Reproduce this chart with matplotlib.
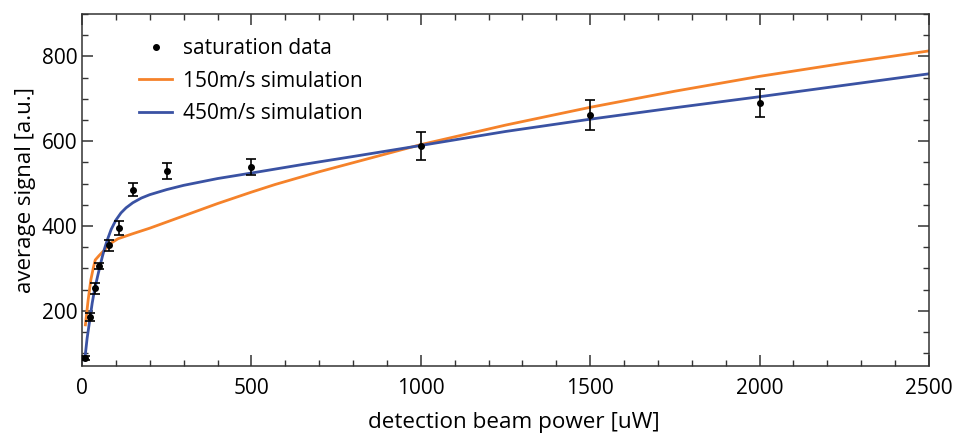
import matplotlib.pyplot as plt
from matplotlib.ticker import MultipleLocator
from matplotlib.lines import Line2D

plt.rcParams['font.family'] = ['Open Sans', 'DejaVu Sans']

# measured saturation data
power = [8, 25, 37, 50, 80, 110, 150, 250, 500, 1000, 1500, 2000]
signal = [88, 186, 253, 306, 355, 395, 486, 530, 539, 588, 662, 691]
signal_err = [5, 10, 13, 8, 13, 16, 15, 19, 18, 33, 35, 33]

# 150 m/s simulation
sim150_x = [10, 18, 26, 33, 39, 50, 62, 86, 106, 150, 200, 300, 400, 500, 570,
            700, 850, 1000, 1250, 1500, 1750, 2000, 2250, 2500]
sim150_y = [167, 225, 273, 300, 320, 330, 340, 360, 370, 382, 395, 424, 453, 480, 498,
            528, 560, 592, 638, 680, 718, 753, 784, 813]

# 450 m/s simulation
sim450_x = [8, 15, 23, 30, 37, 45, 52, 60, 67, 75, 86, 100, 115, 130, 150, 175, 200, 250,
            300, 400, 500, 650, 800, 1000, 1250, 1500, 1750, 2000, 2250, 2500]
sim450_y = [84, 135, 179, 218, 250, 278, 302, 328, 348, 368, 392, 414, 431, 443, 455, 466, 474, 486,
            496, 512, 525, 545, 564, 590, 623, 652, 679, 705, 732, 759]

fig = plt.figure(figsize=(9.57, 4.34), dpi=100)
ax = fig.add_axes([0.0857, 0.1567, 0.885, 0.811])

ax.errorbar(power, signal, yerr=signal_err, fmt='o', color='black', ms=4,
            capsize=3.5, elinewidth=1.2, capthick=1.2, zorder=3)
ax.plot(sim150_x, sim150_y, color='#f5822a', lw=2)
ax.plot(sim450_x, sim450_y, color='#3a52a3', lw=2)

ax.set_xlim(0, 2500)
ax.set_ylim(70, 900)
ax.xaxis.set_major_locator(MultipleLocator(500))
ax.xaxis.set_minor_locator(MultipleLocator(100))
ax.yaxis.set_major_locator(MultipleLocator(200))
ax.yaxis.set_minor_locator(MultipleLocator(50))
ax.tick_params(which='both', direction='in', top=True, right=True, labelsize=15, color='#333333')
ax.tick_params(which='major', length=8, width=1.1)
ax.tick_params(which='minor', length=4.5, width=1)
ax.tick_params(axis='x', pad=9)
for s in ax.spines.values():
    s.set_color('#333333')
    s.set_linewidth(1.1)

ax.set_xlabel('detection beam power [uW]', fontsize=16.2)
ax.xaxis.set_label_coords(0.51, -0.13)
ax.set_ylabel('average signal [a.u.]', fontsize=16)

handles = [Line2D([], [], marker='o', ls='none', color='black', ms=4),
           Line2D([], [], color='#f5822a', lw=2),
           Line2D([], [], color='#3a52a3', lw=2)]
labels = ['saturation data', '150m/s simulation', '450m/s simulation']
ax.legend(handles, labels, loc='upper left', bbox_to_anchor=(0.045, 0.985), frameon=False,
          fontsize=15, handlelength=1.6, handletextpad=0.5, labelspacing=0.55)

plt.savefig('out.png', dpi=100)
